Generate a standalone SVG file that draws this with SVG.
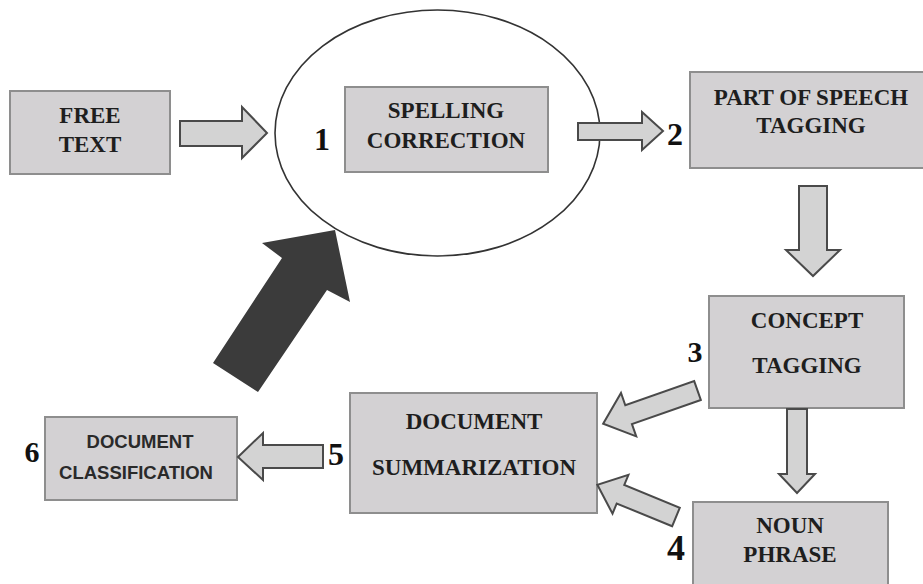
<svg xmlns="http://www.w3.org/2000/svg" width="923" height="584" viewBox="0 0 923 584">
  <style>
    .box { fill: #d3d1d3; stroke: #8e8e8e; stroke-width: 2; }
    .lbl { font-family: "Liberation Serif", "Times New Roman", serif; font-weight: bold; font-size: 23px; fill: #1e1e1e; text-anchor: middle; }
    .lbl-sans { font-family: "Liberation Sans", Arial, sans-serif; font-weight: bold; font-size: 18.5px; fill: #2a2a2a; text-anchor: middle; }
    .num { font-family: "Liberation Serif", "Times New Roman", serif; font-weight: bold; fill: #111; text-anchor: middle; }
    .blk { fill: #d3d3d3; stroke: #4a4a4a; stroke-width: 2; stroke-linejoin: miter; }
  </style>
  <rect width="923" height="584" fill="#ffffff"/>

  <!-- stage ring around spelling correction -->
  <ellipse id="ring" cx="437.5" cy="133" rx="162.5" ry="123" fill="none" stroke="#333" stroke-width="1.6"/>

  <g id="free-text">
    <rect class="box" x="10" y="91" width="160" height="83"/>
    <text class="lbl" x="90" y="123">FREE</text>
    <text class="lbl" x="90" y="152">TEXT</text>
  </g>

  <g id="spelling-correction">
    <rect class="box" x="345" y="87" width="203" height="85"/>
    <text class="lbl" x="446" y="118">SPELLING</text>
    <text class="lbl" x="446" y="148">CORRECTION</text>
    <text class="num" x="322" y="150" font-size="32">1</text>
  </g>

  <g id="pos-tagging">
    <rect class="box" x="690" y="72" width="240" height="96"/>
    <text class="lbl" x="811" y="105">PART OF SPEECH</text>
    <text class="lbl" x="811" y="133">TAGGING</text>
    <text class="num" x="675" y="145" font-size="32">2</text>
  </g>

  <g id="concept-tagging">
    <rect class="box" x="709" y="296" width="195" height="112"/>
    <text class="lbl" x="807" y="328">CONCEPT</text>
    <text class="lbl" x="807" y="373">TAGGING</text>
    <text class="num" x="695" y="362" font-size="30">3</text>
  </g>

  <g id="noun-phrase">
    <rect class="box" x="693" y="502" width="195" height="84"/>
    <text class="lbl" x="790" y="533">NOUN</text>
    <text class="lbl" x="790" y="562">PHRASE</text>
    <text class="num" x="676" y="560" font-size="36">4</text>
  </g>

  <g id="document-summarization">
    <rect class="box" x="350" y="393" width="247" height="120"/>
    <text class="lbl" x="474" y="429">DOCUMENT</text>
    <text class="lbl" x="474" y="475">SUMMARIZATION</text>
    <text class="num" x="336" y="465" font-size="32">5</text>
  </g>

  <g id="document-classification">
    <rect class="box" x="45" y="417" width="192" height="83"/>
    <text class="lbl-sans" x="140" y="448">DOCUMENT</text>
    <text class="lbl-sans" x="136" y="479">CLASSIFICATION</text>
    <text class="num" x="32" y="462" font-size="30">6</text>
  </g>

  <g id="connectors">
    <!-- free text to spelling stage -->
    <polygon class="blk" points="180,121 242,121 242,107 267,133 242,158 242,146 180,146"/>
    <!-- spelling to part of speech -->
    <polygon class="blk" points="578,123 642,123 642,112 663,131 642,150 642,140 578,140"/>
    <!-- part of speech down to concept -->
    <polygon class="blk" points="799,186 827,186 827,250 840,250 813,276 786,250 799,250"/>
    <!-- concept down to noun phrase -->
    <polygon class="blk" points="787,409 807,409 807,474 815,474 797,493 779,474 787,474"/>
    <!-- concept to summarization -->
    <polygon class="blk" transform="translate(697.5,390.5) rotate(160.65)" points="0,-10 73,-10 73,-23 100,0 73,23 73,10 0,10"/>
    <!-- noun phrase to summarization -->
    <polygon class="blk" transform="translate(676,517) rotate(202.3)" points="0,-10 60,-10 60,-21 85,0 60,21 60,10 0,10"/>
    <!-- summarization to classification -->
    <polygon class="blk" points="323,445 263,445 263,433 238,457 263,480 263,468 323,468"/>
    <!-- feedback loop back to spelling stage -->
    <polygon fill="#3b3b3b" points="335,230 350,302 327,290 258,392 213,363 282,258 262,243"/>
  </g>
</svg>
